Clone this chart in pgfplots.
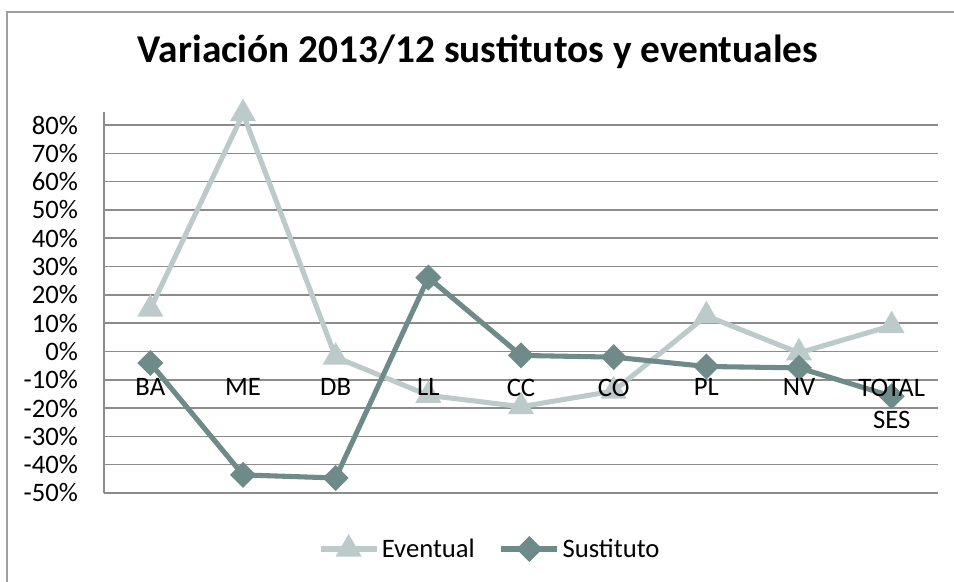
\documentclass[border=0pt]{standalone}
\usepackage{fontspec}
\setmainfont{Carlito}
\usepackage{pgfplots}
\pgfplotsset{compat=1.18}
\definecolor{eventual}{HTML}{BCCBC9}
\definecolor{sustituto}{HTML}{6F8B89}
\definecolor{gridgray}{HTML}{8C8C8C}
\definecolor{framegray}{HTML}{A0A0A0}
\pgfplotsset{chartbox/.style={
  at={(78pt,66.75pt)}, anchor=south west,
  scale only axis, width=625.5pt, height=285.75pt,
  xmin=-0.5, xmax=8.5, ymin=-50, ymax=84.6,
  major tick length=0pt, clip=false,
  tick label style={font=\fontsize{20}{24}\selectfont}}}
\begin{document}
\begin{tikzpicture}
\useasboundingbox (0,0) rectangle (715.5pt,436.5pt);
% chart frame (only left and top edges visible)
\draw[framegray, line width=1.5pt] (5.25pt,-2pt) -- (5.25pt,427.5pt) -- (720pt,427.5pt);
\node[anchor=base, font=\fontsize{29.5}{34}\selectfont\bfseries] at (358.5pt,389.25pt)
  {Variación 2013/12 sustitutos y eventuales};
\begin{axis}[
  chartbox,
  axis x line=middle, axis y line=left,
  axis line style={-, gridgray, line width=1.2pt},
  ymajorgrids, grid style={gridgray, line width=1.2pt},
  xtick={0,...,8}, xticklabels={},
  ytick={-50,-40,...,80},
  yticklabels={-50\%,-40\%,-30\%,-20\%,-10\%,0\%,10\%,20\%,30\%,40\%,50\%,60\%,70\%,80\%},
  yticklabel style={anchor=east, xshift=-16pt},
  legend style={at={(0.463,-0.147)}, anchor=center, draw=none, fill=none,
    legend columns=2, font=\fontsize{20}{24}\selectfont,
    /tikz/every even column/.append style={column sep=16pt}},
  legend image code/.code={\draw[mark repeat=2, mark phase=2] plot coordinates {(0pt,0pt) (21pt,0pt) (42pt,0pt)};},
]
\addplot[eventual, line width=3.8pt, mark=triangle*, mark size=7.5pt, mark options={solid}]
  coordinates {(0,15) (1,84) (2,-2) (3,-15.5) (4,-19.5) (5,-14) (6,12.6) (7,-0.5) (8,9.1)};
\addlegendentry{Eventual}
\addplot[sustituto, line width=3.8pt, mark=square*, mark size=5pt, mark options={solid, rotate=45}]
  coordinates {(0,-4.1) (1,-43.6) (2,-44.7) (3,26.1) (4,-1.4) (5,-2) (6,-5.3) (7,-5.8) (8,-15.8)};
\addlegendentry{Sustituto}
\end{axis}
% category labels on top of the lines
\begin{axis}[
  chartbox,
  axis x line=middle, axis line style={draw=none},
  hide y axis,
  xtick={0,...,8},
  xticklabels={BA,ME,DB,LL,CC,CO,PL,NV,{TOTAL\\SES}},
  xticklabel style={align=center, anchor=north, yshift=-17pt},
]
\end{axis}
\end{tikzpicture}
\end{document}
